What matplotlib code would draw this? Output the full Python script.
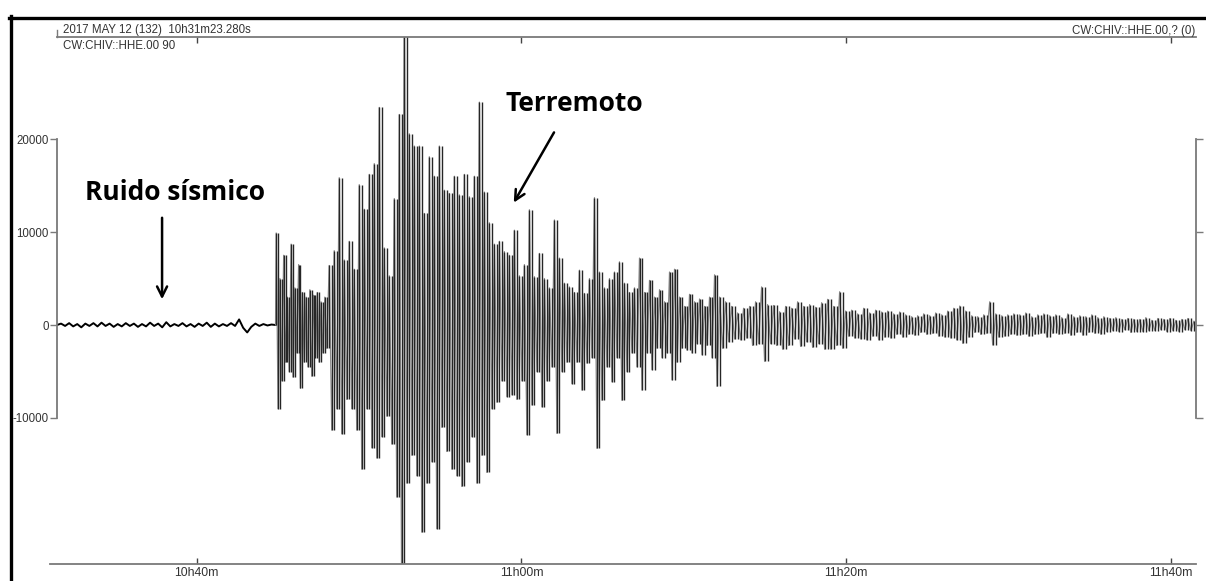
import numpy as np
import matplotlib
matplotlib.use("Agg")
import matplotlib.pyplot as plt
from matplotlib.lines import Line2D

# --- datos (minutos después de las 10h00, cuentas) ---
t_start = 31.388          # 10h31m23.280s
t_end = 101.55

# ruido antes del sismo
noise_t = (31.388, 44.85)
noise_vals = [0, 150, -100, 200, -150, 100, -250, 150, -100, 200,
              -150, 250, -100, 150, -200, 100, -150, 200, -100, 150,
              -200, 100, -150, 250, -100, 150, -250, 300, -150, 100,
              -100, 200, -150, 100, -200, 150, -100, 250, -200, 150,
              -150, 100, -100, 200, -100, 600, -300, -800, -200, 150,
              -100, 100, -50, 50, 0]

# llegada P y primeros segundos
p_t = (44.89, 48.0)
p_vals = [9900, -9000, 5000, -6000, 7500, -4000, 3000, -5000, 8700, -5600,
          4000, -3000, 6500, -6800, 3500, -4000, 3000, -4500, 3800, -5500,
          3200, -3500, 3500, -4000, 2500, -3000, 3000, -2500]

# fase principal
main_t = (48.157, 72.048)
main_vals = [6400, -11300, 8000, -9000, 15850, -11700, 7000, -8000, 9000, -9000,
             6000, -11300, 15100, -15500, 12450, -9000, 16200, -13200, 17360, -14300,
             23400, -12000, 8300, -9800, 5300, -12800, 13600, -18500, 22640, -32000,
             35000, -17000, 20570, -14000, 19250, -16200, 19250, -22270, 12000, -17000,
             18100, -14700, 16000, -21900, 19250, -11000, 14500, -13600, 14150, -15500,
             16000, -16200, 14000, -17360, 16200, -14700, 13800, -12000, 16000, -17000,
             23970, -14000, 14300, -15850, 11000, -9000, 8700, -8300, 9000, -6000,
             7900, -7700, 7500, -7500, 10200, -8000, 5300, -6000, 6500, -11800,
             12400, -8600, 5200, -5000, 7700, -8800, 5000, -6000, 4000, -4500,
             11300, -11650, 7200, -5000, 4500, -4000, 4100, -6300, 3500, -4000,
             5900, -7000, 3400, -4100, 5000, -3500, 13700, -13260, 5700, -8100,
             4000, -4500, 5000, -6100, 5700, -3500, 6800, -8100, 4500, -5000,
             3500, -3000, 4000, -4500, 7200, -7000, 3500, -3000, 4800, -4800,
             3000, -2500, 3800, -3500, 2500, -3000, 5700, -5900, 6000, -4000,
             3000, -2500, 2000, -2700, 3300, -3000, 2500, -2000, 2800, -3200,
             2000, -2200, 3000, -3500, 5400, -6600]

# coda
coda_t = (72.202, 101.42)
coda_vals = [3000, -2500, 2500, -1800, 2000, -1500, 1300, -1600, 1800, -1400,
             2000, -2200, 2500, -2000, 4100, -3900, 2200, -2000, 2100, -2200,
             1430, -2600, 2000, -2200, 1800, -1500, 2500, -2300, 2000, -1800,
             2200, -2400, 1900, -2000, 2400, -2600, 2760, -2600, 2000, -2200,
             3580, -2500, 1500, -1200, 1600, -1400, 1200, -1500, 1800, -1600,
             1300, -1200, 1600, -1600, 1400, -1300, 1500, -1400, 1200, -1000,
             1400, -1300, 1100, -1000, 900, -1100, 1000, -800, 1200, -1000,
             1000, -900, 1300, -1200, 1100, -1300, 1500, -1400, 1800, -1600,
             2040, -1970, 1500, -1300, 1000, -800, 900, -1000, 1100, -900,
             2500, -2150, 1200, -1300, 1000, -1200, 1100, -1000, 1200, -1100,
             1100, -1000, 1300, -1200, 900, -1000, 1100, -900, 1200, -1300,
             1000, -900, 1100, -1000, 800, -900, 1200, -1100, 900, -800,
             1000, -1100, 900, -800, 1100, -900, 800, -1000, 900, -700,
             700, -600, 800, -700, 600, -500, 700, -800, 600, -700,
             600, -700, 800, -600, 500, -600, 700, -500, 600, -700,
             700, -600, 500, -700, 600, -500, 700, -600, 400]

x_ticks = [40, 60, 80, 100]
x_labels = ["10h40m", "11h00m", "11h20m", "11h40m"]
y_ticks = [-10000, 0, 10000, 20000]

segments = [(p_t, p_vals), (main_t, main_vals), (coda_t, coda_vals)]
t_noise = np.linspace(noise_t[0], noise_t[1], len(noise_vals))
t_evt = np.concatenate([np.linspace(a, b, len(v)) for (a, b), v in segments])
y_evt = np.concatenate([np.array(v, dtype=float) for _, v in segments])
t_evt = np.concatenate([[noise_t[1]], t_evt])
y_evt = np.concatenate([[noise_vals[-1]], y_evt])

# --- figura ---
fig = plt.figure(figsize=(12.06, 5.81), dpi=100)
ax = fig.add_axes([57 / 1206, 17 / 581, 1139 / 1206, 527 / 581])

ax.plot(t_noise, noise_vals, color="black", lw=1.4)
# trazo denso: zigzag gris debajo y trazos verticales oscuros encima
ax.plot(t_evt, y_evt, color="#8c8c8c", lw=0.9)
lo = np.minimum(y_evt[:-1], y_evt[1:])
hi = np.maximum(y_evt[:-1], y_evt[1:])
ax.vlines(t_evt[1:], lo, hi, color="#262626", lw=1.0)

ax.set_xlim(t_start, t_end)
ax.set_ylim(-25700, 30970)

grey = "#7a7a7a"
txt = "#333333"
for s in ["top", "bottom", "left", "right"]:
    ax.spines[s].set_color(grey)
    ax.spines[s].set_linewidth(1.3)
ax.spines["left"].set_bounds(-10000, 20000)
ax.spines["right"].set_bounds(-10000, 20000)
ax.spines["bottom"].set_bounds(t_start - 0.45, t_end)
# pequeña marca al inicio del eje superior
ax.plot([0, 0], [1, 1.013], transform=ax.transAxes, clip_on=False, color=grey, lw=1)

ax.set_xticks(x_ticks)
ax.set_xticklabels(x_labels)
ax.tick_params(axis="x", which="both", direction="in", length=4, width=1, color="#444",
               top=True, labeltop=False, labelsize=8.8, labelcolor=txt, pad=2)
ax.set_yticks(y_ticks)
ax.set_yticklabels([str(v) for v in y_ticks])
ax.tick_params(axis="y", direction="out", length=5, width=1, color=grey,
               right=True, labelright=False, labelsize=8.3, labelcolor=txt, pad=1)
for lab in ax.get_xticklabels() + ax.get_yticklabels():
    lab.set_family("Liberation Sans")

# textos de cabecera
fig.text(63 / 1206, 1 - 30 / 581, "2017 MAY 12 (132)  10h31m23.280s", fontsize=8.3,
         family="Liberation Sans", color=txt, va="center", ha="left")
fig.text(63 / 1206, 1 - 46 / 581, "CW:CHIV::HHE.00 90", fontsize=8.3,
         family="Liberation Sans", color=txt, va="center", ha="left")
fig.text(1195 / 1206, 1 - 31 / 581, "CW:CHIV::HHE.00,? (0)", fontsize=8.3,
         family="Liberation Sans", color=txt, va="center", ha="right")

# anotaciones
ax.text(38.66, 14300, "Ruido sísmico", fontsize=19, fontweight="bold",
        family="Open Sans", ha="center", va="center", color="black")
ax.annotate("", xy=(37.86, 2470), xytext=(37.86, 11830),
            arrowprops=dict(arrowstyle="->", lw=1.8, color="black", mutation_scale=18))
ax.text(63.26, 23870, "Terremoto", fontsize=19, fontweight="bold",
        family="Open Sans", ha="center", va="center", color="black")
ax.annotate("", xy=(59.44, 12900), xytext=(62.09, 20970),
            arrowprops=dict(arrowstyle="->", lw=1.8, color="black", mutation_scale=18))

# marco negro de la imagen
fig.add_artist(Line2D([9 / 1206, 1.0], [1 - 17.5 / 581] * 2, color="black", lw=2.4,
                      transform=fig.transFigure))
fig.add_artist(Line2D([10.5 / 1206] * 2, [0, 1 - 16 / 581], color="black", lw=2.4,
                      transform=fig.transFigure))

fig.savefig("out.png", dpi=100)
